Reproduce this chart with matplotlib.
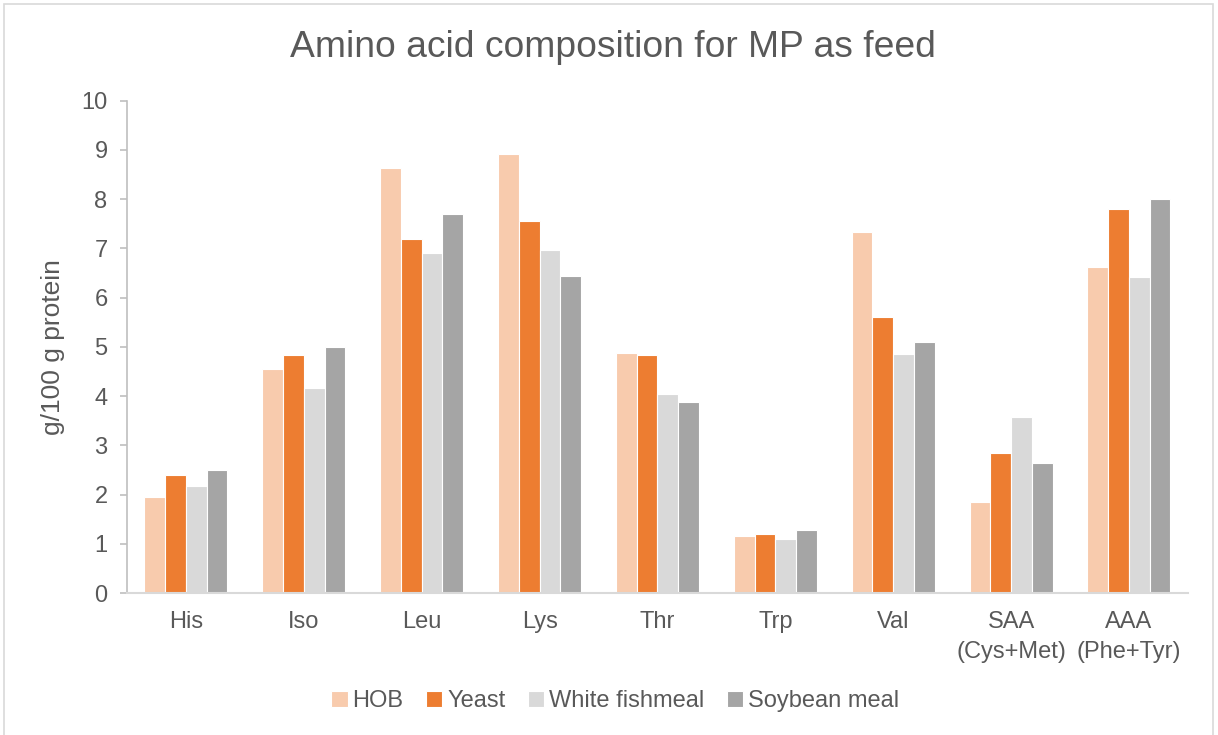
import numpy as np
import matplotlib.pyplot as plt
from matplotlib.patches import Rectangle

plt.rcParams['font.family'] = ['Liberation Sans', 'DejaVu Sans']

amino_acids = ["His", "Iso", "Leu", "Lys", "Thr", "Trp", "Val",
               "SAA\n(Cys+Met)", "AAA\n(Phe+Tyr)"]
hob = [1.95, 4.56, 8.63, 8.92, 4.87, 1.17, 7.33, 1.86, 6.63]
yeast = [2.40, 4.84, 7.20, 7.55, 4.84, 1.20, 5.60, 2.84, 7.80]
white_fishmeal = [2.17, 4.16, 6.90, 6.96, 4.04, 1.09, 4.85, 3.58, 6.41]
soybean_meal = [2.50, 5.00, 7.70, 6.45, 3.89, 1.28, 5.10, 2.65, 8.01]

series = [("HOB", hob, "#F8CBAD"),
          ("Yeast", yeast, "#ED7D31"),
          ("White fishmeal", white_fishmeal, "#D9D9D9"),
          ("Soybean meal", soybean_meal, "#A5A5A5")]

text_color = "#595959"

fig = plt.figure(figsize=(12.18, 7.35), dpi=100)
ax = fig.add_axes([0.1043, 0.193, 0.871, 0.670])

# chart area frame
fig.patches.append(Rectangle((0.003, -0.01), 0.993, 1.004, transform=fig.transFigure,
                             fill=False, edgecolor="#D9D9D9", linewidth=1.2))

x = np.arange(len(amino_acids))
width = 0.176
for i, (name, vals, color) in enumerate(series):
    offset = (i - 1.5) * width
    ax.bar(x + offset, vals, width, color=color, edgecolor="white",
           linewidth=0.8, label=name, zorder=2)

ax.set_xlim(-0.5, len(amino_acids) - 0.5)
ax.set_ylim(0, 10)
ax.set_yticks(range(0, 11))
ax.set_xticks(x)
ax.set_xticklabels(amino_acids, fontsize=17, color=text_color, linespacing=1.45)
ax.tick_params(axis="y", labelsize=17, labelcolor=text_color, color="#BFBFBF",
               length=5, width=1.2, pad=9)
ax.tick_params(axis="x", length=0, pad=13)

for side in ("top", "right"):
    ax.spines[side].set_visible(False)
ax.spines["left"].set_color("#BFBFBF")
ax.spines["left"].set_linewidth(1.2)
ax.spines["bottom"].set_color("#D9D9D9")
ax.spines["bottom"].set_linewidth(1.5)

ax.set_ylabel("g/100 g protein", fontsize=19, color=text_color, labelpad=12)
fig.text(0.503, 0.935, "Amino acid composition for MP as feed", fontsize=26.8,
         color=text_color, ha="center", va="center")

leg = fig.legend(loc="center", bbox_to_anchor=(0.505, 0.046), ncol=4,
                 frameon=False, fontsize=17, handlelength=0.7, handleheight=0.7,
                 handletextpad=0.2, columnspacing=0.95)
for t in leg.get_texts():
    t.set_color(text_color)

fig.savefig("out.png", dpi=100)
